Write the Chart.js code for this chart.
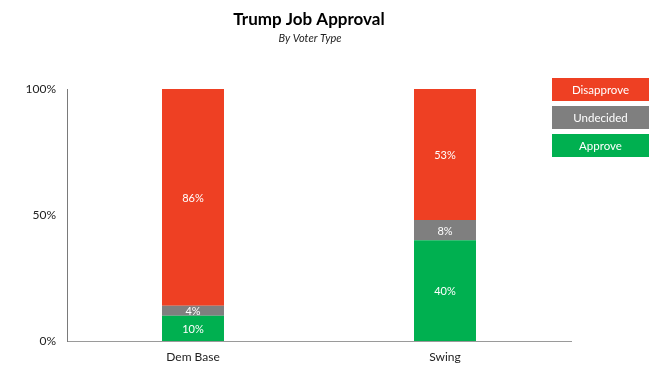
<!DOCTYPE html>
<html>
<head>
<meta charset="utf-8">
<script src="https://cdn.jsdelivr.net/npm/chart.js@4/dist/chart.umd.min.js"></script>
<style>
html,body{margin:0;padding:0;background:#fff;}
#wrap{width:670px;height:380px;position:relative;}
</style>
</head>
<body>
<div id="wrap"><canvas id="c" width="670" height="380"></canvas></div>
<script>
const categories = ["Dem Base", "Swing"];
const approve = [10, 40];
const undecided = [4, 8];
const disapprove = [86, 53];
const yTicks = [0, 50, 100];
const titleText = "Trump Job Approval";
const subtitleText = "By Voter Type";

const FONT = "Lato, 'Open Sans', sans-serif";

const titlePlugin = {
  id: 'titles',
  afterDraw(chart) {
    const ctx = chart.ctx;
    ctx.save();
    ctx.fillStyle = '#000';
    ctx.textAlign = 'center';
    ctx.textBaseline = 'middle';
    ctx.font = "bold 17px " + FONT;
    ctx.fillText(titleText, 309, 20);
    ctx.font = "italic 11px " + FONT;
    ctx.fillStyle = '#222';
    ctx.fillText(subtitleText, 310, 38);
    ctx.restore();
  }
};

const labelPlugin = {
  id: 'barLabels',
  afterDatasetsDraw(chart) {
    const ctx = chart.ctx;
    const top = chart.chartArea.top;
    ctx.save();
    ctx.fillStyle = '#fff';
    ctx.font = "11px " + FONT;
    ctx.textAlign = 'center';
    ctx.textBaseline = 'middle';
    chart.data.datasets.forEach((ds, i) => {
      const meta = chart.getDatasetMeta(i);
      meta.data.forEach((el, j) => {
        const y1 = Math.max(el.y, top);
        const y2 = el.base;
        ctx.fillText(ds.data[j] + '%', el.x, (y1 + y2) / 2 + 1);
      });
    });
    ctx.restore();
  }
};

const legendPlugin = {
  id: 'boxLegend',
  afterDraw(chart) {
    const ctx = chart.ctx;
    const order = [2, 1, 0];
    const x = 552, w = 97, h = 23, gap = 5;
    let y = 78;
    ctx.save();
    ctx.font = "11.5px " + FONT;
    ctx.textAlign = 'center';
    ctx.textBaseline = 'middle';
    order.forEach(i => {
      const ds = chart.data.datasets[i];
      ctx.fillStyle = ds.backgroundColor;
      ctx.fillRect(x, y, w, h);
      ctx.fillStyle = '#fff';
      ctx.fillText(ds.label, x + w / 2, y + h / 2 + 1);
      y += h + gap;
    });
    ctx.restore();
  }
};

new Chart(document.getElementById('c'), {
  type: 'bar',
  data: {
    labels: categories,
    datasets: [
      { label: 'Approve', data: approve, backgroundColor: '#00B050' },
      { label: 'Undecided', data: undecided, backgroundColor: '#7F7F7F' },
      { label: 'Disapprove', data: disapprove, backgroundColor: '#EE4023' }
    ]
  },
  options: {
    responsive: false,
    animation: false,
    devicePixelRatio: 1,
    layout: { padding: { top: 89, right: 99, left: 0, bottom: 0 } },
    plugins: { legend: { display: false }, title: { display: false }, tooltip: { enabled: false } },
    datasets: { bar: { categoryPercentage: 1, barPercentage: 0.246 } },
    scales: {
      x: {
        stacked: true,
        grid: { display: false, drawTicks: false },
        border: { display: true, color: '#9a9a9a', width: 1 },
        ticks: { color: '#222', font: { size: 12, family: FONT }, padding: 9 },
        afterFit(scale) { scale.height = 39; }
      },
      y: {
        stacked: true,
        min: 0, max: 100,
        afterBuildTicks(scale) { scale.ticks = yTicks.map(v => ({ value: v })); },
        grid: { display: false, drawTicks: false },
        border: { display: true, color: '#7a7a7a', width: 1 },
        ticks: { color: '#222', font: { size: 12, family: FONT }, padding: 11, callback: v => v + '%' },
        afterFit(scale) { scale.width = 67; }
      }
    }
  },
  plugins: [titlePlugin, labelPlugin, legendPlugin]
});
</script>
</body>
</html>
